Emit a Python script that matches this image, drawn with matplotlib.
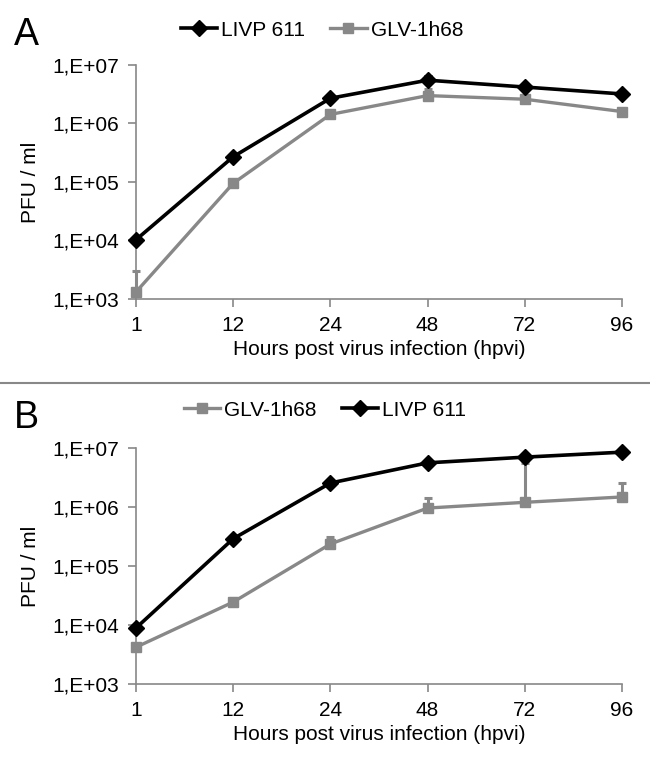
import matplotlib
matplotlib.use("Agg")
import matplotlib.pyplot as plt
import numpy as np
from matplotlib.lines import Line2D

plt.rcParams['font.family'] = ['Liberation Sans', 'DejaVu Sans']

hours = ["1", "12", "24", "48", "72", "96"]

# Panel A
a_livp = [1.03e4, 2.7e5, 2.7e6, 5.5e6, 4.2e6, 3.2e6]
a_livp_err = [0, 0, 0, 0.9e6, 0, 0]
a_glv = [1.32e3, 9.5e4, 1.43e6, 3.0e6, 2.6e6, 1.6e6]
a_glv_err = [1.7e3, 0, 0, 0.9e6, 0, 0]

# Panel B
b_livp = [8.9e3, 2.9e5, 2.55e6, 5.6e6, 7.0e6, 8.5e6]
b_livp_err = [0, 0, 0, 0, 0, 0]
b_glv = [4.2e3, 2.45e4, 2.36e5, 9.6e5, 1.2e6, 1.48e6]
b_glv_err = [0, 0.4e4, 0.7e5, 0.46e6, 4.4e6, 1.07e6]

yticks = [1e3, 1e4, 1e5, 1e6, 1e7]
ytick_labels = ["1,E+03", "1,E+04", "1,E+05", "1,E+06", "1,E+07"]

W, H = 650, 765
fig = plt.figure(figsize=(6.5, 7.65), dpi=100)

axis_col = "#888888"
glv_col = "#888888"
FS = 15

def draw(ax, livp, livp_err, glv, glv_err, order):
    x = np.arange(len(hours))
    ax.errorbar(x, glv, yerr=[np.zeros(len(glv)), glv_err], fmt='none',
                ecolor=glv_col, elinewidth=2.2, capsize=3, capthick=2.2, zorder=2, clip_on=False)
    l_glv, = ax.plot(x, glv, color=glv_col, lw=2.4, marker='s', ms=7.5,
                     mfc=glv_col, mec=glv_col, zorder=3, clip_on=False, label="GLV-1h68")
    ax.errorbar(x, livp, yerr=[np.zeros(len(livp)), livp_err], fmt='none',
                ecolor='black', elinewidth=2.0, capsize=3, capthick=2.0, zorder=4, clip_on=False)
    l_livp, = ax.plot(x, livp, color='black', lw=2.6, marker='D', ms=8,
                      mfc='black', mec='black', zorder=5, clip_on=False, label="LIVP 611")
    handles = {"LIVP 611": l_livp, "GLV-1h68": l_glv}
    ax.set_yscale('log')
    ax.set_ylim(1e3, 1e7)
    ax.set_xlim(0, 5)
    ax.set_yticks(yticks)
    ax.set_yticklabels(ytick_labels)
    ax.yaxis.set_minor_locator(matplotlib.ticker.NullLocator())
    ax.set_xticks(x)
    ax.set_xticklabels(hours)
    for s in ['top', 'right']:
        ax.spines[s].set_visible(False)
    for s in ['left', 'bottom']:
        ax.spines[s].set_color(axis_col)
        ax.spines[s].set_linewidth(1.2)
    ax.tick_params(axis='both', direction='out', length=6, width=1.2,
                   color=axis_col, labelsize=FS, labelcolor='black', pad=6)
    ax.set_ylabel("PFU / ml", fontsize=FS, labelpad=9)
    ax.set_xlabel("Hours post virus infection (hpvi)", fontsize=FS, labelpad=4)
    return [handles[k] for k in order]

axA = fig.add_axes([136 / W, 1 - 299 / H, 486 / W, 234 / H])
hA = draw(axA, a_livp, a_livp_err, a_glv, a_glv_err, ["LIVP 611", "GLV-1h68"])
axB = fig.add_axes([136 / W, 1 - 684 / H, 486 / W, 236 / H])
hB = draw(axB, b_livp, b_livp_err, b_glv, b_glv_err, ["GLV-1h68", "LIVP 611"])

leg_kw = dict(loc='center', ncol=2, frameon=False, fontsize=FS, handlelength=1.75,
              handletextpad=0.2, columnspacing=1.2, borderpad=0)
fig.legend(hA, [h.get_label() for h in hA], bbox_to_anchor=(322 / W, 1 - 30 / H), **leg_kw)
fig.legend(hB, [h.get_label() for h in hB], bbox_to_anchor=(325 / W, 1 - 410 / H), **leg_kw)

fig.text(14 / W, 1 - 35 / H, "A", fontsize=27, va='center', ha='left')
fig.text(14 / W, 1 - 418 / H, "B", fontsize=27, va='center', ha='left')

fig.add_artist(Line2D([0, 1], [1 - 383 / H, 1 - 383 / H], color='#888888', lw=1.5))

fig.savefig("out.png", dpi=100)
